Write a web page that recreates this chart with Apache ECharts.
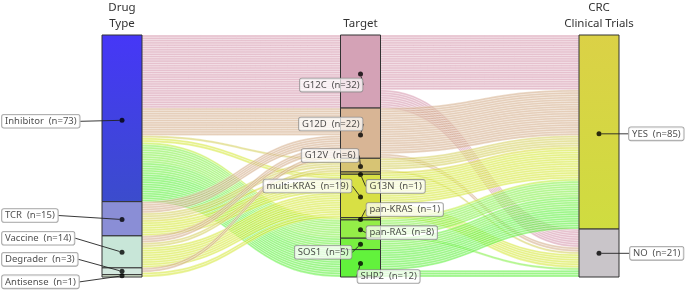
<!DOCTYPE html>
<html>
<head>
<meta charset="utf-8">
<script src="https://cdn.jsdelivr.net/npm/echarts@6/dist/echarts.min.js"></script>
<style>
  html, body { margin: 0; padding: 0; background: #fff; }
  #container { width: 685px; height: 290px; }
</style>
</head>
<body>
<div id="container"></div>
<script>
// alluvial: drug type -> target -> CRC trials
var dom = document.getElementById('container');
var myChart = echarts.init(dom, null, { renderer: 'canvas' });

// data
var columnTitles = ['Drug\nType', 'Target', 'CRC\nClinical Trials'];
var drugTypes = ['Inhibitor', 'TCR', 'Vaccine', 'Degrader', 'Antisense'];
var targets = ['G12C', 'G12D', 'G12V', 'G13N', 'multi-KRAS', 'pan-KRAS', 'pan-RAS', 'SOS1', 'SHP2'];
var crcStatus = ['YES', 'NO'];

// trials per drug type (rows) and target (cols)
var drugToTarget = [
    [32, 12, 1, 0, 2, 1, 8, 5, 12],
    [0, 5, 3, 1, 6, 0, 0, 0, 0],
    [0, 3, 2, 0, 9, 0, 0, 0, 0],
    [0, 2, 0, 0, 1, 0, 0, 0, 0],
    [0, 0, 0, 0, 1, 0, 0, 0, 0]
];
// trials per target (rows) and CRC status (YES, NO)
var targetToCrc = [
    [24, 8], [20, 2], [5, 1], [1, 0], [13, 6], [1, 0], [7, 1], [5, 0], [9, 3]
];

// styles
var drugColors = [
    { type: 'linear', x: 0, y: 0, x2: 0, y2: 1, colorStops: [{ offset: 0, color: '#4637f7' }, { offset: 1, color: '#3b4ccc' }] },
    '#8a8ed6', '#c8e6d8', '#d3e8de', '#dcecd4'
];
var targetColors = ['#d4a2b6', '#d8b595', '#d7c474', '#d6cc58', '#d8e044', '#b8e640', '#94ee48', '#78f040', '#62f23c'];
var strandColors = ['#d597ae', '#d4ae8a', '#d6d060', '#d8dc40', '#d6e83a', '#bcee3a', '#84f048', '#6cf040', '#5cf03a'];
var crcColors = [
    { type: 'linear', x: 0, y: 0, x2: 0, y2: 1, colorStops: [{ offset: 0, color: '#dbd146' }, { offset: 1, color: '#cfdc40' }] },
    '#c9c5c9'
];
// label placement relative to the dot: [dx, dy, align]
var drugLabelPos = [[-120, 1, 'left'], [-120, -4, 'left'], [-120, -14, 'left'], [-120, -12, 'left'], [-120, 6, 'left']];
var targetLabelPos = [[2, 11, 'right'], [2, -11, 'right'], [-2, -11, 'right'], [6, 12, 'left'], [-9, -11, 'right'],
    [6, -10, 'left'], [6, 3, 'left'], [-9, 8, 'right'], [-3, 13, 'left']];
var crcLabelPos = [[30, 0, 'left'], [31, 0, 'left']];

function sum(arr) { return arr.reduce(function (a, b) { return a + b; }, 0); }
function colSum(m, j) { return sum(m.map(function (r) { return r[j]; })); }

var drugTotals = drugToTarget.map(sum);
var targetTotals = targets.map(function (t, j) { return colSum(drugToTarget, j); });
var crcTotals = crcStatus.map(function (c, j) { return colSum(targetToCrc, j); });
var grandTotal = sum(drugTotals);

// nodes
var nodes = [];
drugTypes.forEach(function (n, i) { nodes.push({ name: n, itemStyle: { color: drugColors[i] } }); });
targets.forEach(function (n, i) { nodes.push({ name: n, itemStyle: { color: targetColors[i] } }); });
crcStatus.forEach(function (n, i) { nodes.push({ name: n, itemStyle: { color: crcColors[i] } }); });

// one link per trial so every strand is drawn
var links = [];
drugToTarget.forEach(function (row, i) {
    row.forEach(function (count, j) {
        for (var k = 0; k < count; k++) {
            links.push({ source: drugTypes[i], target: targets[j], value: 1, lineStyle: { color: strandColors[j] } });
        }
    });
});
targetToCrc.forEach(function (row, i) {
    row.forEach(function (count, j) {
        for (var k = 0; k < count; k++) {
            links.push({ source: targets[i], target: crcStatus[j], value: 1, lineStyle: { color: strandColors[i] } });
        }
    });
});

// dots at node centres with labels
function columnDots(col, names, totals, pos) {
    var acc = 0;
    return names.map(function (n, i) {
        var mid = acc + totals[i] / 2;
        acc += totals[i];
        return {
            value: [col, mid],
            name: n + '  (n=' + totals[i] + ')',
            pos: pos[i]
        };
    });
}
var dots = [].concat(
    columnDots(0, drugTypes, drugTotals, drugLabelPos),
    columnDots(1, targets, targetTotals, targetLabelPos),
    columnDots(2, crcStatus, crcTotals, crcLabelPos)
);

var option = {
    animation: false,
    textStyle: { fontFamily: 'Noto Sans' },
    grid: { left: 122, right: 86, top: 35, bottom: 13 },
    xAxis: {
        type: 'value', position: 'top', min: 0, max: 2, interval: 1,
        axisLine: { show: false }, axisTick: { show: false }, splitLine: { show: false },
        axisLabel: {
            formatter: function (v) { return columnTitles[v]; },
            fontFamily: 'Noto Sans', fontSize: 11.5, color: '#333', lineHeight: 16, margin: 6,
            showMinLabel: true, showMaxLabel: true
        }
    },
    yAxis: { type: 'value', min: 0, max: grandTotal, inverse: true, show: false },
    series: [
        {
            type: 'sankey',
            left: 102, right: 66, top: 35, bottom: 13,
            nodeWidth: 40,
            nodeGap: 0,
            layoutIterations: 0,
            draggable: false,
            silent: true,
            label: { show: false },
            itemStyle: { borderColor: '#333', borderWidth: 1 },
            lineStyle: { opacity: 0.6, curveness: 0.5, borderColor: '#ffffff', borderWidth: 0.5 },
            emphasis: { disabled: true },
            data: nodes,
            links: links
        },
        {
            type: 'scatter',
            z: 10,
            silent: true,
            symbolSize: 5,
            itemStyle: { color: '#000' },
            data: dots,
            label: {
                show: true,
                formatter: function (p) { return p.name; },
                fontFamily: 'Noto Sans',
                fontSize: 9.5,
                color: '#222',
                backgroundColor: 'rgba(255,255,255,0.9)',
                borderColor: '#888',
                borderWidth: 0.8,
                borderRadius: 2,
                padding: [2, 3, 1, 3]
            },
            labelLine: { show: true, lineStyle: { color: '#222', width: 0.9 } },
            labelLayout: function (p) {
                var d = dots[p.dataIndex];
                var cx = p.rect.x + p.rect.width / 2;
                var cy = p.rect.y + p.rect.height / 2;
                return { x: cx + d.pos[0], y: cy + d.pos[1], align: d.pos[2], verticalAlign: 'middle' };
            }
        }
    ]
};

myChart.setOption(option);
window.addEventListener('resize', myChart.resize);
</script>
</body>
</html>
